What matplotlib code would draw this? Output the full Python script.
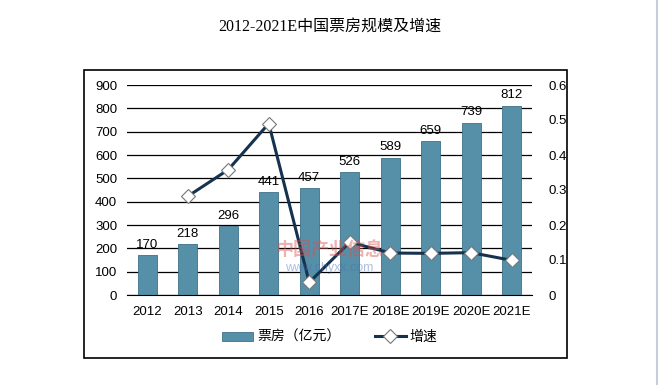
import matplotlib.pyplot as plt
from matplotlib.patches import Rectangle
from matplotlib.lines import Line2D

plt.rcParams['font.family'] = ['Liberation Sans', 'Noto Sans CJK SC']

# data
years = ['2012', '2013', '2014', '2015', '2016', '2017E', '2018E', '2019E', '2020E', '2021E']
box_office = [170, 218, 296, 441, 457, 526, 589, 659, 739, 812]
growth_years = years[1:]
growth = [0.282, 0.358, 0.49, 0.036, 0.151, 0.12, 0.119, 0.121, 0.099]

bar_color = '#558fa8'
line_color = '#15324f'

fig = plt.figure(figsize=(6.59, 3.85), dpi=100)

# outer frame
fig.patches.append(Rectangle((84/659, 1-358/385), (567-84)/659, (358-70)/385,
                             transform=fig.transFigure, fill=False,
                             edgecolor='black', linewidth=1.2))
# right page edge line
fig.add_artist(Line2D([657/659, 657/659], [0, 1], transform=fig.transFigure,
                      color='#c5cfdc', linewidth=1.5))

fig.text(0.5, 1-27/385, '2012-2021E中国票房规模及增速', ha='center', va='center',
         fontsize=11.5, family=['Liberation Serif', 'Noto Sans CJK SC'])

ax = fig.add_axes([127/659, 1-295/385, (532-127)/659, 210/385])
x = range(len(years))
bars = ax.bar(x, box_office, width=0.48, color=bar_color, edgecolor='#3f7088',
              linewidth=0.6, label='票房（亿元）', zorder=2)
for xi, v in zip(x, box_office):
    ax.text(xi, v + 18, str(v), ha='center', va='bottom', fontsize=9.5, zorder=5)

ax.set_ylim(0, 900)
ax.set_xlim(-0.5, len(years) - 0.5)
ax.set_yticks(range(0, 901, 100))
ax.set_xticks(list(x))
ax.set_xticklabels(years)
ax.grid(axis='y', color='black', linewidth=0.9, zorder=0)
for s in ax.spines.values():
    s.set_visible(False)
ax.spines['bottom'].set_visible(True)
ax.tick_params(length=0, labelsize=9.5, pad=7)
ax.tick_params(axis='x', pad=8)

# watermark
fig.text(0.5, 1-250/385, '中国产业信息', ha='center', va='center', fontsize=13,
         color='#d9534f', alpha=0.45, weight='bold', family=['Noto Sans CJK SC'])
fig.text(0.5, 1-268/385, 'www.chyxx.com', ha='center', va='center', fontsize=9,
         color='#4a6fb0', alpha=0.45)

ax2 = ax.twinx()
ax2.plot(range(1, len(years)), growth, color=line_color, linewidth=2.2,
         marker='D', markersize=7, markerfacecolor='white',
         markeredgecolor='#777777', markeredgewidth=0.8, label='增速', zorder=4)
ax2.set_ylim(0, 0.6)
ax2.set_yticks([0, 0.1, 0.2, 0.3, 0.4, 0.5, 0.6])
ax2.set_yticklabels(['0', '0.1', '0.2', '0.3', '0.4', '0.5', '0.6'])
for s in ax2.spines.values():
    s.set_visible(False)
ax2.tick_params(length=0, labelsize=9.5, pad=12)

h1, l1 = ax.get_legend_handles_labels()
h2, l2 = ax2.get_legend_handles_labels()
fig.legend(h1 + h2, l1 + l2, loc='center', bbox_to_anchor=(330/659, 1-337/385),
           ncol=2, frameon=False, fontsize=10, handlelength=2.2,
           handleheight=0.6, columnspacing=2.5, handletextpad=0.3,
           prop={'family': ['Liberation Sans', 'Noto Sans CJK SC'], 'size': 10})

fig.savefig('out.png', dpi=100)
